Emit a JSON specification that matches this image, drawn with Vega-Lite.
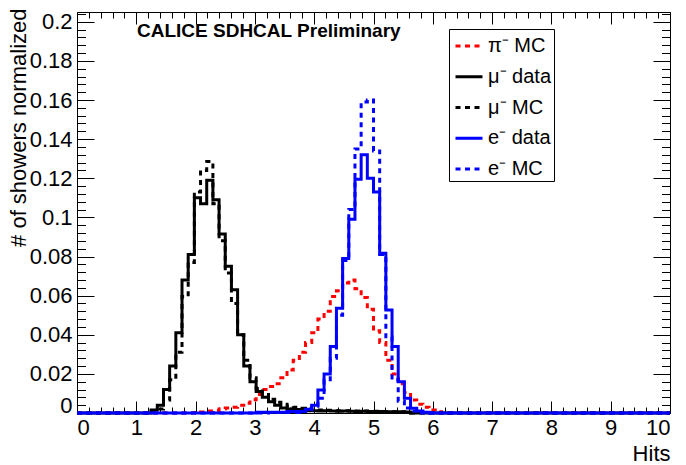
{
  "$schema": "https://vega.github.io/schema/vega-lite/v6.json",
  "width": 593,
  "height": 401,
  "autosize": {"type": "none"},
  "padding": {"left": 77, "top": 12, "right": 16, "bottom": 52},
  "background": "white",
  "config": {
    "view": {"stroke": "black", "strokeWidth": 1},
    "font": "Liberation Sans",
    "legend": {
      "orient": "none",
      "legendX": 372,
      "legendY": 17,
      "symbolType": "stroke",
      "symbolStrokeWidth": 3,
      "symbolSize": 729,
      "symbolOffset": 3,
      "labelOffset": 4,
      "labelFontSize": 20,
      "labelFont": "Liberation Sans",
      "labelFontWeight": "normal",
      "labelColor": "black",
      "padding": 2,
      "rowPadding": 5.75,
      "strokeColor": "black",
      "fillColor": "white",
      "cornerRadius": 0
    }
  },
  "title": {
    "text": "CALICE SDHCAL Preliminary",
    "anchor": "start",
    "frame": "group",
    "orient": "top",
    "offset": 0,
    "dx": 60,
    "dy": 53,
    "baseline": "alphabetic",
    "fontSize": 19,
    "fontWeight": "bold",
    "font": "Liberation Sans",
    "color": "black"
  },
  "data": {
    "values": [
      {"series": "π⁻ MC", "hits": 0, "value": 0},
      {"series": "π⁻ MC", "hits": 1.9271, "value": 0},
      {"series": "π⁻ MC", "hits": 2.0312, "value": 0.0002},
      {"series": "π⁻ MC", "hits": 2.1354, "value": 0.0005},
      {"series": "π⁻ MC", "hits": 2.2396, "value": 0.001},
      {"series": "π⁻ MC", "hits": 2.3438, "value": 0.0013},
      {"series": "π⁻ MC", "hits": 2.4479, "value": 0.002},
      {"series": "π⁻ MC", "hits": 2.5521, "value": 0.0025},
      {"series": "π⁻ MC", "hits": 2.6562, "value": 0.003},
      {"series": "π⁻ MC", "hits": 2.7604, "value": 0.004},
      {"series": "π⁻ MC", "hits": 2.8646, "value": 0.005},
      {"series": "π⁻ MC", "hits": 2.9688, "value": 0.0068},
      {"series": "π⁻ MC", "hits": 3.0729, "value": 0.0095},
      {"series": "π⁻ MC", "hits": 3.1771, "value": 0.012},
      {"series": "π⁻ MC", "hits": 3.2812, "value": 0.0135},
      {"series": "π⁻ MC", "hits": 3.3854, "value": 0.015},
      {"series": "π⁻ MC", "hits": 3.4896, "value": 0.018},
      {"series": "π⁻ MC", "hits": 3.5938, "value": 0.022},
      {"series": "π⁻ MC", "hits": 3.6979, "value": 0.027},
      {"series": "π⁻ MC", "hits": 3.8021, "value": 0.031},
      {"series": "π⁻ MC", "hits": 3.9062, "value": 0.036},
      {"series": "π⁻ MC", "hits": 4.0104, "value": 0.041},
      {"series": "π⁻ MC", "hits": 4.1146, "value": 0.048},
      {"series": "π⁻ MC", "hits": 4.2188, "value": 0.052},
      {"series": "π⁻ MC", "hits": 4.3229, "value": 0.0595},
      {"series": "π⁻ MC", "hits": 4.4271, "value": 0.0625},
      {"series": "π⁻ MC", "hits": 4.5312, "value": 0.0665},
      {"series": "π⁻ MC", "hits": 4.6354, "value": 0.068},
      {"series": "π⁻ MC", "hits": 4.7396, "value": 0.0635},
      {"series": "π⁻ MC", "hits": 4.8438, "value": 0.059},
      {"series": "π⁻ MC", "hits": 4.9479, "value": 0.053},
      {"series": "π⁻ MC", "hits": 5.0521, "value": 0.042},
      {"series": "π⁻ MC", "hits": 5.1562, "value": 0.036},
      {"series": "π⁻ MC", "hits": 5.2604, "value": 0.027},
      {"series": "π⁻ MC", "hits": 5.3646, "value": 0.02},
      {"series": "π⁻ MC", "hits": 5.4688, "value": 0.015},
      {"series": "π⁻ MC", "hits": 5.5729, "value": 0.0105},
      {"series": "π⁻ MC", "hits": 5.6771, "value": 0.0066},
      {"series": "π⁻ MC", "hits": 5.7812, "value": 0.0045},
      {"series": "π⁻ MC", "hits": 5.8854, "value": 0.003},
      {"series": "π⁻ MC", "hits": 5.9896, "value": 0.0015},
      {"series": "π⁻ MC", "hits": 6.0938, "value": 0.0007},
      {"series": "π⁻ MC", "hits": 6.1979, "value": 0},
      {"series": "π⁻ MC", "hits": 10, "value": 0},

      {"series": "μ⁻ data", "hits": 0, "value": 0},
      {"series": "μ⁻ data", "hits": 1.1979, "value": 0},
      {"series": "μ⁻ data", "hits": 1.3021, "value": 0.0015},
      {"series": "μ⁻ data", "hits": 1.4062, "value": 0.004},
      {"series": "μ⁻ data", "hits": 1.5104, "value": 0.012},
      {"series": "μ⁻ data", "hits": 1.6146, "value": 0.024},
      {"series": "μ⁻ data", "hits": 1.7188, "value": 0.041},
      {"series": "μ⁻ data", "hits": 1.8229, "value": 0.068},
      {"series": "μ⁻ data", "hits": 1.9271, "value": 0.081},
      {"series": "μ⁻ data", "hits": 2.0312, "value": 0.11},
      {"series": "μ⁻ data", "hits": 2.1354, "value": 0.107},
      {"series": "μ⁻ data", "hits": 2.2396, "value": 0.119},
      {"series": "μ⁻ data", "hits": 2.3438, "value": 0.109},
      {"series": "μ⁻ data", "hits": 2.4479, "value": 0.0915},
      {"series": "μ⁻ data", "hits": 2.5521, "value": 0.075},
      {"series": "μ⁻ data", "hits": 2.6562, "value": 0.063},
      {"series": "μ⁻ data", "hits": 2.7604, "value": 0.04},
      {"series": "μ⁻ data", "hits": 2.8646, "value": 0.024},
      {"series": "μ⁻ data", "hits": 2.9688, "value": 0.016},
      {"series": "μ⁻ data", "hits": 3.0729, "value": 0.011},
      {"series": "μ⁻ data", "hits": 3.1771, "value": 0.008},
      {"series": "μ⁻ data", "hits": 3.2812, "value": 0.0058},
      {"series": "μ⁻ data", "hits": 3.3854, "value": 0.004},
      {"series": "μ⁻ data", "hits": 3.4896, "value": 0.0025},
      {"series": "μ⁻ data", "hits": 3.5938, "value": 0.002},
      {"series": "μ⁻ data", "hits": 3.6979, "value": 0.0018},
      {"series": "μ⁻ data", "hits": 3.8021, "value": 0.0014},
      {"series": "μ⁻ data", "hits": 3.9062, "value": 0.0012},
      {"series": "μ⁻ data", "hits": 4.0104, "value": 0.0012},
      {"series": "μ⁻ data", "hits": 4.1146, "value": 0.001},
      {"series": "μ⁻ data", "hits": 4.2188, "value": 0.0011},
      {"series": "μ⁻ data", "hits": 4.3229, "value": 0.001},
      {"series": "μ⁻ data", "hits": 4.4271, "value": 0.0009},
      {"series": "μ⁻ data", "hits": 4.5312, "value": 0.001},
      {"series": "μ⁻ data", "hits": 4.6354, "value": 0.0009},
      {"series": "μ⁻ data", "hits": 4.7396, "value": 0.0008},
      {"series": "μ⁻ data", "hits": 4.8438, "value": 0.0009},
      {"series": "μ⁻ data", "hits": 4.9479, "value": 0.0008},
      {"series": "μ⁻ data", "hits": 5.0521, "value": 0.0007},
      {"series": "μ⁻ data", "hits": 5.1562, "value": 0.0008},
      {"series": "μ⁻ data", "hits": 5.2604, "value": 0.0007},
      {"series": "μ⁻ data", "hits": 5.3646, "value": 0.0006},
      {"series": "μ⁻ data", "hits": 5.4688, "value": 0.0006},
      {"series": "μ⁻ data", "hits": 5.5729, "value": 0.0005},
      {"series": "μ⁻ data", "hits": 5.6771, "value": 0},
      {"series": "μ⁻ data", "hits": 10, "value": 0},

      {"series": "μ⁻ MC", "hits": 0, "value": 0},
      {"series": "μ⁻ MC", "hits": 1.1979, "value": 0},
      {"series": "μ⁻ MC", "hits": 1.3021, "value": 0.001},
      {"series": "μ⁻ MC", "hits": 1.4062, "value": 0.002},
      {"series": "μ⁻ MC", "hits": 1.5104, "value": 0.0066},
      {"series": "μ⁻ MC", "hits": 1.6146, "value": 0.017},
      {"series": "μ⁻ MC", "hits": 1.7188, "value": 0.031},
      {"series": "μ⁻ MC", "hits": 1.8229, "value": 0.0595},
      {"series": "μ⁻ MC", "hits": 1.9271, "value": 0.077},
      {"series": "μ⁻ MC", "hits": 2.0312, "value": 0.113},
      {"series": "μ⁻ MC", "hits": 2.1354, "value": 0.124},
      {"series": "μ⁻ MC", "hits": 2.2396, "value": 0.1286},
      {"series": "μ⁻ MC", "hits": 2.3438, "value": 0.107},
      {"series": "μ⁻ MC", "hits": 2.4479, "value": 0.088},
      {"series": "μ⁻ MC", "hits": 2.5521, "value": 0.0716},
      {"series": "μ⁻ MC", "hits": 2.6562, "value": 0.056},
      {"series": "μ⁻ MC", "hits": 2.7604, "value": 0.04},
      {"series": "μ⁻ MC", "hits": 2.8646, "value": 0.027},
      {"series": "μ⁻ MC", "hits": 2.9688, "value": 0.018},
      {"series": "μ⁻ MC", "hits": 3.0729, "value": 0.0125},
      {"series": "μ⁻ MC", "hits": 3.1771, "value": 0.0095},
      {"series": "μ⁻ MC", "hits": 3.2812, "value": 0.007},
      {"series": "μ⁻ MC", "hits": 3.3854, "value": 0.0055},
      {"series": "μ⁻ MC", "hits": 3.4896, "value": 0.0045},
      {"series": "μ⁻ MC", "hits": 3.5938, "value": 0.0036},
      {"series": "μ⁻ MC", "hits": 3.6979, "value": 0.003},
      {"series": "μ⁻ MC", "hits": 3.8021, "value": 0.0024},
      {"series": "μ⁻ MC", "hits": 3.9062, "value": 0.002},
      {"series": "μ⁻ MC", "hits": 4.0104, "value": 0.0016},
      {"series": "μ⁻ MC", "hits": 4.1146, "value": 0.0015},
      {"series": "μ⁻ MC", "hits": 4.2188, "value": 0.0014},
      {"series": "μ⁻ MC", "hits": 4.3229, "value": 0.0013},
      {"series": "μ⁻ MC", "hits": 4.4271, "value": 0.0012},
      {"series": "μ⁻ MC", "hits": 4.5312, "value": 0.0012},
      {"series": "μ⁻ MC", "hits": 4.6354, "value": 0.0011},
      {"series": "μ⁻ MC", "hits": 4.7396, "value": 0.001},
      {"series": "μ⁻ MC", "hits": 4.8438, "value": 0.001},
      {"series": "μ⁻ MC", "hits": 4.9479, "value": 0.0009},
      {"series": "μ⁻ MC", "hits": 5.0521, "value": 0.0009},
      {"series": "μ⁻ MC", "hits": 5.1562, "value": 0.0008},
      {"series": "μ⁻ MC", "hits": 5.2604, "value": 0.0008},
      {"series": "μ⁻ MC", "hits": 5.3646, "value": 0.0007},
      {"series": "μ⁻ MC", "hits": 5.4688, "value": 0.0006},
      {"series": "μ⁻ MC", "hits": 5.5729, "value": 0.0005},
      {"series": "μ⁻ MC", "hits": 5.6771, "value": 0},
      {"series": "μ⁻ MC", "hits": 10, "value": 0},

      {"series": "e⁻ data", "hits": 0, "value": 0},
      {"series": "e⁻ data", "hits": 2.9688, "value": 0},
      {"series": "e⁻ data", "hits": 3.0729, "value": 0.0004},
      {"series": "e⁻ data", "hits": 3.1771, "value": 0.0004},
      {"series": "e⁻ data", "hits": 3.2812, "value": 0.0004},
      {"series": "e⁻ data", "hits": 3.3854, "value": 0.0004},
      {"series": "e⁻ data", "hits": 3.4896, "value": 0.0004},
      {"series": "e⁻ data", "hits": 3.5938, "value": 0.0008},
      {"series": "e⁻ data", "hits": 3.6979, "value": 0.0008},
      {"series": "e⁻ data", "hits": 3.8021, "value": 0.0008},
      {"series": "e⁻ data", "hits": 3.9062, "value": 0.0019},
      {"series": "e⁻ data", "hits": 4.0104, "value": 0.004},
      {"series": "e⁻ data", "hits": 4.1146, "value": 0.0118},
      {"series": "e⁻ data", "hits": 4.2188, "value": 0.02},
      {"series": "e⁻ data", "hits": 4.3229, "value": 0.034},
      {"series": "e⁻ data", "hits": 4.4271, "value": 0.0535},
      {"series": "e⁻ data", "hits": 4.5312, "value": 0.079},
      {"series": "e⁻ data", "hits": 4.6354, "value": 0.099},
      {"series": "e⁻ data", "hits": 4.7396, "value": 0.1195},
      {"series": "e⁻ data", "hits": 4.8438, "value": 0.132},
      {"series": "e⁻ data", "hits": 4.9479, "value": 0.12},
      {"series": "e⁻ data", "hits": 5.0521, "value": 0.113},
      {"series": "e⁻ data", "hits": 5.1562, "value": 0.0817},
      {"series": "e⁻ data", "hits": 5.2604, "value": 0.0527},
      {"series": "e⁻ data", "hits": 5.3646, "value": 0.034},
      {"series": "e⁻ data", "hits": 5.4688, "value": 0.016},
      {"series": "e⁻ data", "hits": 5.5729, "value": 0.0075},
      {"series": "e⁻ data", "hits": 5.6771, "value": 0.0024},
      {"series": "e⁻ data", "hits": 5.7812, "value": 0.001},
      {"series": "e⁻ data", "hits": 5.8854, "value": 0.0004},
      {"series": "e⁻ data", "hits": 5.9896, "value": 0},
      {"series": "e⁻ data", "hits": 10, "value": 0},

      {"series": "e⁻ MC", "hits": 0, "value": 0},
      {"series": "e⁻ MC", "hits": 3.1771, "value": 0},
      {"series": "e⁻ MC", "hits": 3.2812, "value": 0.0003},
      {"series": "e⁻ MC", "hits": 3.3854, "value": 0.0003},
      {"series": "e⁻ MC", "hits": 3.4896, "value": 0.0003},
      {"series": "e⁻ MC", "hits": 3.5938, "value": 0.0003},
      {"series": "e⁻ MC", "hits": 3.6979, "value": 0.0003},
      {"series": "e⁻ MC", "hits": 3.8021, "value": 0.0008},
      {"series": "e⁻ MC", "hits": 3.9062, "value": 0.0015},
      {"series": "e⁻ MC", "hits": 4.0104, "value": 0.0035},
      {"series": "e⁻ MC", "hits": 4.1146, "value": 0.0075},
      {"series": "e⁻ MC", "hits": 4.2188, "value": 0.017},
      {"series": "e⁻ MC", "hits": 4.3229, "value": 0.028},
      {"series": "e⁻ MC", "hits": 4.4271, "value": 0.05},
      {"series": "e⁻ MC", "hits": 4.5312, "value": 0.078},
      {"series": "e⁻ MC", "hits": 4.6354, "value": 0.104},
      {"series": "e⁻ MC", "hits": 4.7396, "value": 0.135},
      {"series": "e⁻ MC", "hits": 4.8438, "value": 0.159},
      {"series": "e⁻ MC", "hits": 4.9479, "value": 0.16},
      {"series": "e⁻ MC", "hits": 5.0521, "value": 0.134},
      {"series": "e⁻ MC", "hits": 5.1562, "value": 0.081},
      {"series": "e⁻ MC", "hits": 5.2604, "value": 0.039},
      {"series": "e⁻ MC", "hits": 5.3646, "value": 0.017},
      {"series": "e⁻ MC", "hits": 5.4688, "value": 0.006},
      {"series": "e⁻ MC", "hits": 5.5729, "value": 0.0025},
      {"series": "e⁻ MC", "hits": 5.6771, "value": 0.001},
      {"series": "e⁻ MC", "hits": 5.7812, "value": 0},
      {"series": "e⁻ MC", "hits": 10, "value": 0}
    ]
  },
  "layer": [
    {
      "encoding": {
        "x": {
          "field": "hits",
          "type": "quantitative",
          "scale": {"domain": [0, 10], "nice": false, "zero": false},
          "axis": {
            "orient": "bottom",
            "values": [0, 0.2, 0.4, 0.6, 0.8, 1, 1.2, 1.4, 1.6, 1.8, 2, 2.2, 2.4, 2.6, 2.8, 3, 3.2, 3.4, 3.6, 3.8, 4, 4.2, 4.4, 4.6, 4.8, 5, 5.2, 5.4, 5.6, 5.8, 6, 6.2, 6.4, 6.6, 6.8, 7, 7.2, 7.4, 7.6, 7.8, 8, 8.2, 8.4, 8.6, 8.8, 9, 9.2, 9.4, 9.6, 9.8, 10],
            "labelExpr": "round(datum.value * 10) % 10 === 0 ? format(datum.value, 'd') : ''",
            "tickSize": {"condition": {"test": "round(datum.value * 10) % 10 === 0", "value": -12}, "value": -6},
            "tickColor": "black",
            "tickWidth": 1,
            "labelPadding": 16.6,
            "labelBaseline": "top",
            "labelFontSize": 22,
            "labelFont": "Liberation Sans",
            "labelFontWeight": "normal",
            "labelColor": "black",
            "labelOverlap": false,
            "labelBound": false,
            "domain": false,
            "grid": false,
            "title": "Hits",
            "titleX": 593,
            "titleY": 47,
            "titleAlign": "right",
            "titleAnchor": "end",
            "titleBaseline": "alphabetic",
            "titleFontSize": 22,
            "titleFontWeight": "normal",
            "titleFont": "Liberation Sans",
            "titleColor": "black"
          }
        },
        "y": {
          "field": "value",
          "type": "quantitative",
          "scale": {"domain": [0, 0.205], "nice": false, "zero": false},
          "axis": {
            "orient": "left",
            "values": [0, 0.004, 0.008, 0.012, 0.016, 0.02, 0.024, 0.028, 0.032, 0.036, 0.04, 0.044, 0.048, 0.052, 0.056, 0.06, 0.064, 0.068, 0.072, 0.076, 0.08, 0.084, 0.088, 0.092, 0.096, 0.1, 0.104, 0.108, 0.112, 0.116, 0.12, 0.124, 0.128, 0.132, 0.136, 0.14, 0.144, 0.148, 0.152, 0.156, 0.16, 0.164, 0.168, 0.172, 0.176, 0.18, 0.184, 0.188, 0.192, 0.196, 0.2, 0.204],
            "labelExpr": "round(datum.value * 1000) % 20 === 0 ? format(datum.value, '~g') : ''",
            "tickSize": {"condition": {"test": "round(datum.value * 1000) % 20 === 0", "value": -17}, "value": -8.5},
            "tickColor": "black",
            "tickWidth": 1,
            "labelPadding": 22,
            "labelFontSize": 22,
            "labelFont": "Liberation Sans",
            "labelFontWeight": "normal",
            "labelColor": "black",
            "labelOverlap": false,
            "labelBound": false,
            "labelFlush": true,
            "labelFlushOffset": 4,
            "domain": false,
            "grid": false,
            "title": "# of showers normalized",
            "titleX": -51.5,
            "titleY": -4,
            "titleAngle": -90,
            "titleAlign": "right",
            "titleBaseline": "alphabetic",
            "titleFontSize": 22,
            "titleFontWeight": "normal",
            "titleFont": "Liberation Sans",
            "titleColor": "black"
          }
        },
        "color": {
          "field": "series",
          "type": "nominal",
          "scale": {
            "domain": ["π⁻ MC", "μ⁻ data", "μ⁻ MC", "e⁻ data", "e⁻ MC"],
            "range": ["#ff0000", "#000000", "#000000", "#0000ff", "#0000ff"]
          },
          "legend": {"title": null, "labelExpr": "datum.label + '\u00a0\u00a0\u00a0\u00a0\u00a0\u00a0\u00a0\u00a0'"}
        },
        "strokeDash": {
          "field": "series",
          "type": "nominal",
          "scale": {
            "domain": ["π⁻ MC", "μ⁻ data", "μ⁻ MC", "e⁻ data", "e⁻ MC"],
            "range": [[5, 4.5], [1, 0], [5, 4.5], [1, 0], [5, 4.5]]
          },
          "legend": {"title": null, "labelExpr": "datum.label + '\u00a0\u00a0\u00a0\u00a0\u00a0\u00a0\u00a0\u00a0'"}
        }
      },
      "layer": [
        {
          "transform": [{"filter": "datum.series === 'π⁻ MC'"}],
          "mark": {"type": "line", "interpolate": "step", "strokeWidth": 3}
        },
        {
          "transform": [{"filter": "datum.series === 'μ⁻ data'"}],
          "mark": {"type": "line", "interpolate": "step", "strokeWidth": 3}
        },
        {
          "transform": [{"filter": "datum.series === 'μ⁻ MC'"}],
          "mark": {"type": "line", "interpolate": "step", "strokeWidth": 3}
        },
        {
          "transform": [{"filter": "datum.series === 'e⁻ data'"}],
          "mark": {"type": "line", "interpolate": "step", "strokeWidth": 3}
        },
        {
          "transform": [{"filter": "datum.series === 'e⁻ MC'"}],
          "mark": {"type": "line", "interpolate": "step", "strokeWidth": 3}
        }
      ]
    },
    {
      "mark": {"type": "line", "strokeOpacity": 0},
      "encoding": {
        "x": {
          "field": "hits",
          "type": "quantitative",
          "scale": {"domain": [0, 10], "nice": false, "zero": false},
          "axis": {
            "orient": "top",
            "values": [0, 0.2, 0.4, 0.6, 0.8, 1, 1.2, 1.4, 1.6, 1.8, 2, 2.2, 2.4, 2.6, 2.8, 3, 3.2, 3.4, 3.6, 3.8, 4, 4.2, 4.4, 4.6, 4.8, 5, 5.2, 5.4, 5.6, 5.8, 6, 6.2, 6.4, 6.6, 6.8, 7, 7.2, 7.4, 7.6, 7.8, 8, 8.2, 8.4, 8.6, 8.8, 9, 9.2, 9.4, 9.6, 9.8, 10],
            "labels": false,
            "tickSize": {"condition": {"test": "round(datum.value * 10) % 10 === 0", "value": -12}, "value": -6},
            "tickColor": "black",
            "domain": false,
            "grid": false,
            "title": null
          }
        },
        "y": {
          "field": "value",
          "type": "quantitative",
          "scale": {"domain": [0, 0.205], "nice": false, "zero": false},
          "axis": {
            "orient": "right",
            "values": [0, 0.004, 0.008, 0.012, 0.016, 0.02, 0.024, 0.028, 0.032, 0.036, 0.04, 0.044, 0.048, 0.052, 0.056, 0.06, 0.064, 0.068, 0.072, 0.076, 0.08, 0.084, 0.088, 0.092, 0.096, 0.1, 0.104, 0.108, 0.112, 0.116, 0.12, 0.124, 0.128, 0.132, 0.136, 0.14, 0.144, 0.148, 0.152, 0.156, 0.16, 0.164, 0.168, 0.172, 0.176, 0.18, 0.184, 0.188, 0.192, 0.196, 0.2, 0.204],
            "labels": false,
            "tickSize": {"condition": {"test": "round(datum.value * 1000) % 20 === 0", "value": -17}, "value": -8.5},
            "tickColor": "black",
            "domain": false,
            "grid": false,
            "title": null
          }
        },
        "detail": {"field": "series"}
      }
    }
  ],
  "resolve": {"axis": {"x": "independent", "y": "independent"}}
}
